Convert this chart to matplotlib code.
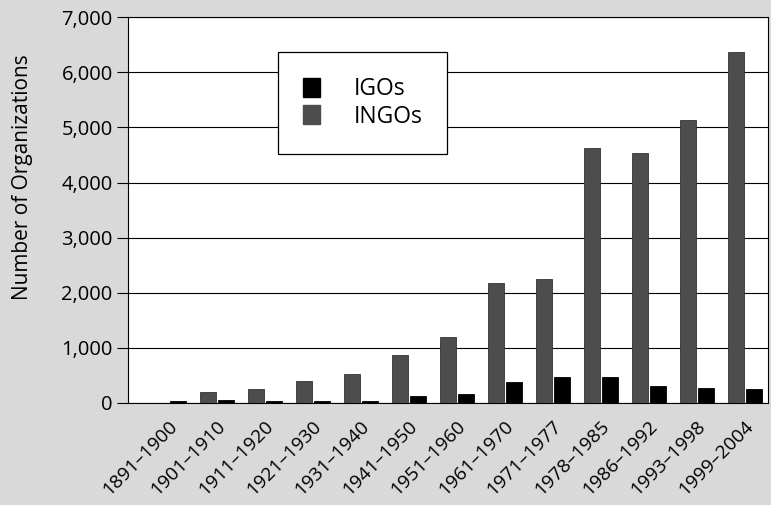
import numpy as np
import matplotlib.pyplot as plt
from matplotlib.patches import Patch

periods = ['1891–1900', '1901–1910', '1911–1920', '1921–1930', '1931–1940',
           '1941–1950', '1951–1960', '1961–1970', '1971–1977', '1978–1985',
           '1986–1992', '1993–1998', '1999–2004']
ingos = [0, 200, 250, 390, 520, 870, 1190, 2180, 2250, 4620, 4530, 5130, 6370]
igos = [30, 50, 40, 35, 40, 130, 170, 380, 470, 470, 310, 270, 260]
yticks = [0, 1000, 2000, 3000, 4000, 5000, 6000, 7000]

plt.rcParams['font.family'] = ['Open Sans', 'DejaVu Sans']

fig = plt.figure(figsize=(7.71, 5.05), dpi=100, facecolor='#d9d9d9')
ax = fig.add_axes([0.166, 0.202, 0.830, 0.764])
ax.set_facecolor('white')

x = np.arange(len(periods))
w = 0.33
ax.bar(x - 0.19, ingos, width=w, color='#4d4d4d', edgecolor='#333333',
       linewidth=0.6, zorder=3)
ax.bar(x + 0.19, igos, width=w, color='black', edgecolor='black',
       linewidth=0.6, zorder=3)

ax.set_xlim(-0.85, 12.48)
ax.set_ylim(0, 7000)
ax.set_yticks(yticks)
ax.set_yticklabels(['{:,}'.format(v) for v in yticks], fontsize=14.5)
ax.yaxis.grid(True, color='black', linewidth=0.8, zorder=1)
ax.tick_params(axis='y', length=8, width=0.8, pad=3)

ax.set_xticks(x - 0.02)
ax.set_xticklabels(periods, rotation=45, ha='right', rotation_mode='anchor',
                   fontsize=13.8)
ax.tick_params(axis='x', length=0, pad=10)

ax.set_ylabel('Number of Organizations', fontsize=15)
ax.yaxis.set_label_coords(-0.148, 0.585)

for s in ax.spines.values():
    s.set_color('black')
    s.set_linewidth(0.8)

handles = [Patch(facecolor='black', edgecolor='black', label='IGOs'),
           Patch(facecolor='#4d4d4d', edgecolor='#4d4d4d', label='INGOs')]
leg = ax.legend(handles=handles, loc='upper left',
                bbox_to_anchor=(0.234, 0.91), fontsize=16.5, frameon=True,
                fancybox=False, edgecolor='black', framealpha=1,
                handlelength=0.75, handleheight=0.9, handletextpad=1.45,
                borderpad=1.1, labelspacing=0.15, borderaxespad=0)
leg.get_frame().set_linewidth(0.9)
leg.set_zorder(5)

fig.savefig('out.png', dpi=100, facecolor=fig.get_facecolor())
